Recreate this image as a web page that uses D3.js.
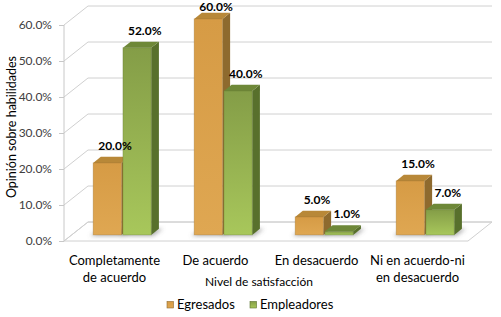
<!DOCTYPE html>
<html>
<head>
<meta charset="utf-8">
<script src="https://cdn.jsdelivr.net/npm/d3@7"></script>
<style>
  body { margin: 0; background: #fff; }
  text { font-family: Lato, "Open Sans", sans-serif; }
</style>
</head>
<body>
<div id="chart"></div>
<script>
// data
var categories = ["Completamente de acuerdo", "De acuerdo", "En desacuerdo", "Ni en acuerdo-ni en desacuerdo"];
var categoryLines = [["Completamente", "de acuerdo"], ["De acuerdo"], ["En desacuerdo"], ["Ni en acuerdo-ni", "en desacuerdo"]];
var seriesNames = ["Egresados", "Empleadores"];
var egresados = [0.20, 0.60, 0.05, 0.15];
var empleadores = [0.52, 0.40, 0.01, 0.07];
var yTicks = [0, 0.1, 0.2, 0.3, 0.4, 0.5, 0.6];

var width = 501, height = 317;
var DX = 24, DY = -19;      // depth of the back wall
var T1 = 0.32, T2 = 0.64;   // bar front / back position in depth

var colors = {
    Egresados: {front0: "#d69b45", front1: "#dfa752", top: "#b88838", side: "#8e6a2e"},
    Empleadores: {front0: "#849d47", front1: "#a8c75b", top: "#6e8838", side: "#58702c"}
};

var svg = d3.select("#chart").append("svg")
    .attr("width", width)
    .attr("height", height);

var defs = svg.append("defs");
seriesNames.forEach(function(s, i){
    var g = defs.append("linearGradient")
        .attr("id", "grad" + i)
        .attr("x1", 0).attr("y1", 0).attr("x2", 0).attr("y2", 1);
    g.append("stop").attr("offset", "0%").attr("stop-color", colors[s].front0);
    g.append("stop").attr("offset", "100%").attr("stop-color", colors[s].front1);
});
defs.append("filter").attr("id", "blur")
    .attr("x", "-50%").attr("y", "-50%").attr("width", "200%").attr("height", "200%")
    .append("feGaussianBlur").attr("stdDeviation", 2.2);

var x = d3.scaleBand()
    .domain(categories)
    .range([64, 468]);

var xInner = d3.scaleBand()
    .domain(seriesNames)
    .range([0, x.bandwidth()])
    .paddingInner(0.05)
    .paddingOuter(0.72);

var y = d3.scaleLinear()
    .domain([0, 0.6])
    .range([241, 25]);

function px(xv, t){ return xv + t * DX; }
function py(yv, t){ return yv + t * DY; }
function pts(a){ return a.map(function(p){ return p.join(","); }).join(" "); }

var fmt = d3.format(".1%");
var grid = "#d0d0d0";

// floor
svg.append("polygon")
    .attr("points", pts([[x.range()[0], y(0)], [x.range()[1], y(0)],
        [px(x.range()[1], 1), py(y(0), 1)], [px(x.range()[0], 1), py(y(0), 1)]]))
    .attr("fill", "#fff")
    .attr("stroke", grid)
    .attr("stroke-width", 1);

// left wall diagonals and back wall gridlines
var gGrid = svg.append("g");
yTicks.forEach(function(t){
    gGrid.append("line")
        .attr("x1", x.range()[0]).attr("y1", y(t))
        .attr("x2", px(x.range()[0], 1)).attr("y2", py(y(t), 1))
        .attr("stroke", grid);
    gGrid.append("line")
        .attr("x1", px(x.range()[0], 1)).attr("y1", py(y(t), 1))
        .attr("x2", px(x.range()[1], 1)).attr("y2", py(y(t), 1))
        .attr("stroke", grid);
});

// front axis line and ticks
svg.append("line")
    .attr("x1", x.range()[0]).attr("x2", x.range()[0])
    .attr("y1", y(0)).attr("y2", y(0.6))
    .attr("stroke", "#c8c8c8");
var yAxis = d3.axisLeft(y)
    .tickValues(yTicks)
    .tickFormat(fmt)
    .tickSize(5)
    .tickPadding(7);
var gy = svg.append("g")
    .attr("transform", "translate(" + x.range()[0] + ",0)")
    .call(yAxis);
gy.select(".domain").remove();
gy.selectAll(".tick line").attr("stroke", "#c8c8c8");
gy.selectAll(".tick text")
    .attr("fill", "#404040")
    .style("font-size", "12px")
    .style("font-family", "Lato, sans-serif");

// bars
var bars = [];
categories.forEach(function(c, i){
    bars.push({cat: c, s: "Egresados", si: 0, v: egresados[i]});
    bars.push({cat: c, s: "Empleadores", si: 1, v: empleadores[i]});
});

var gShadow = svg.append("g").attr("filter", "url(#blur)");
bars.forEach(function(d){
    var x0 = x(d.cat) + xInner(d.s), x1 = x0 + xInner.bandwidth();
    var b = y(0);
    gShadow.append("polygon")
        .attr("points", pts([[px(x0, T1) - 3, py(b, T1) + 1], [px(x1, T1) + 2, py(b, T1) + 1],
            [px(x1, T2) + 4, py(b, T2)], [px(x0, T2), py(b, T2)]]))
        .attr("fill", "#6f6f6f")
        .attr("opacity", 0.55);
});

var gBars = svg.append("g");
bars.forEach(function(d){
    var x0 = x(d.cat) + xInner(d.s), x1 = x0 + xInner.bandwidth();
    var top = y(d.v), b = y(0);
    var c = colors[d.s];
    var g = gBars.append("g");
    // side
    g.append("polygon")
        .attr("points", pts([[px(x1, T1), py(top, T1)], [px(x1, T2), py(top, T2)],
            [px(x1, T2), py(b, T2)], [px(x1, T1), py(b, T1)]]))
        .attr("fill", c.side);
    // top
    g.append("polygon")
        .attr("points", pts([[px(x0, T1), py(top, T1)], [px(x1, T1), py(top, T1)],
            [px(x1, T2), py(top, T2)], [px(x0, T2), py(top, T2)]]))
        .attr("fill", c.top);
    // front
    g.append("rect")
        .attr("x", px(x0, T1))
        .attr("y", py(top, T1))
        .attr("width", x1 - x0)
        .attr("height", b - top)
        .attr("fill", "url(#grad" + d.si + ")")
        .attr("stroke", c.side)
        .attr("stroke-opacity", 0.35)
        .attr("stroke-width", 0.8);
});

// data labels
svg.append("g").selectAll("text")
    .data(bars)
    .enter()
    .append("text")
    .attr("x", function(d){ return px(x(d.cat) + xInner(d.s) + xInner.bandwidth() / 2, T2); })
    .attr("y", function(d){ return Math.max(py(y(d.v), T2) - 11, 7) + 4; })
    .attr("text-anchor", "middle")
    .attr("font-weight", "bold")
    .attr("font-size", "12px")
    .attr("fill", "#000")
    .text(function(d){ return fmt(d.v); });

// category labels
var gCat = svg.append("g");
categories.forEach(function(c, i){
    var t = gCat.append("text")
        .attr("x", x(c) + x.bandwidth() / 2)
        .attr("y", 265)
        .attr("text-anchor", "middle")
        .attr("font-size", "13px")
        .attr("fill", "#000");
    categoryLines[i].forEach(function(line, j){
        t.append("tspan")
            .attr("x", x(c) + x.bandwidth() / 2)
            .attr("dy", j === 0 ? 0 : 17)
            .text(line);
    });
});

// axis titles
svg.append("text")
    .attr("x", 259)
    .attr("y", 286)
    .attr("text-anchor", "middle")
    .attr("font-size", "12px")
    .text("Nivel de satisfacción");

svg.append("text")
    .attr("transform", "translate(16,127) rotate(-90)")
    .attr("text-anchor", "middle")
    .attr("font-size", "12.5px")
    .text("Opinión sobre habilidades");

// legend
var legendX = [167, 250];
var legend = svg.append("g");
seriesNames.forEach(function(s, i){
    legend.append("rect")
        .attr("x", legendX[i]).attr("y", 301.5)
        .attr("width", 6.5).attr("height", 6.5)
        .attr("fill", "url(#grad" + i + ")")
        .attr("stroke", colors[s].side)
        .attr("stroke-width", 0.6);
    legend.append("text")
        .attr("x", legendX[i] + 10)
        .attr("y", 309)
        .attr("font-size", "13px")
        .text(s);
});
</script>
</body>
</html>
